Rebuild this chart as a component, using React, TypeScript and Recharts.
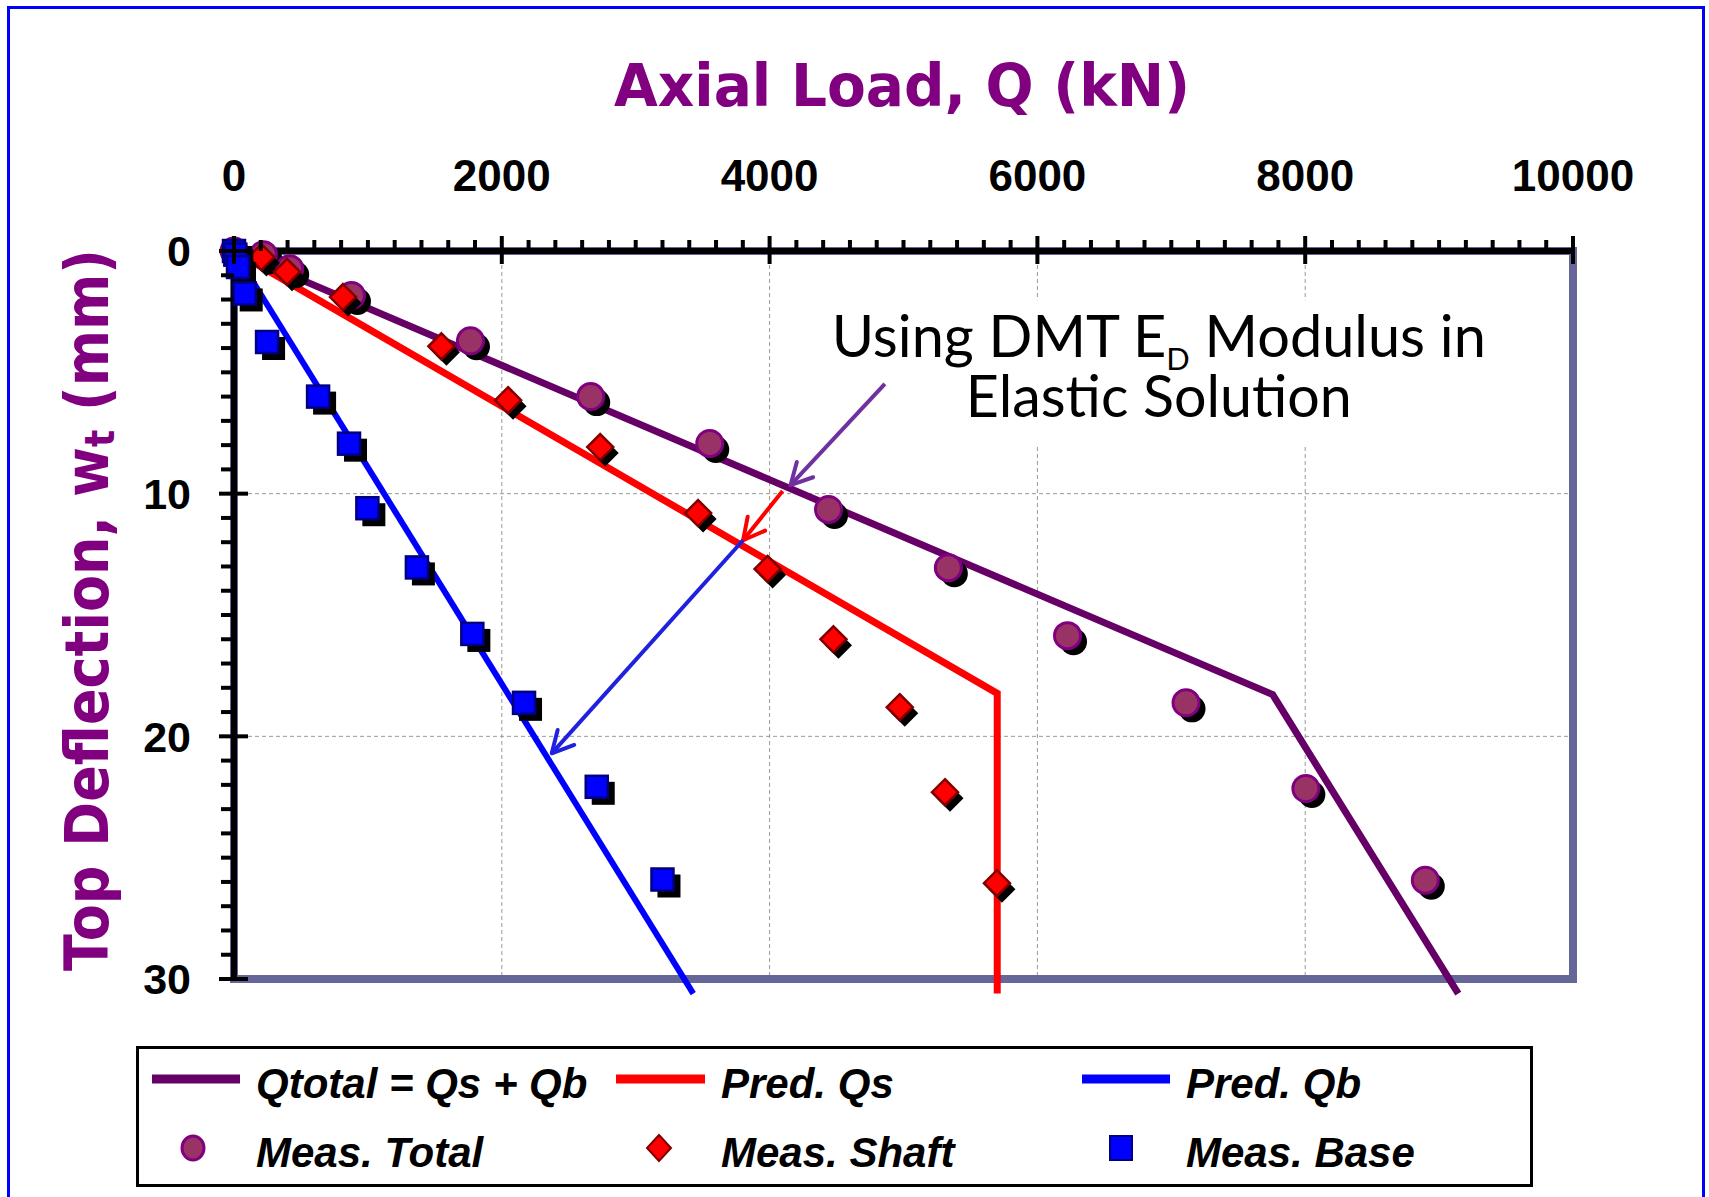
import React from 'react';
import {
  ComposedChart,
  Line,
  Scatter,
  XAxis,
  YAxis,
  CartesianGrid,
  ReferenceArea,
  ReferenceLine,
  ReferenceDot,
} from 'recharts';

// ---------- data ----------
const predTotalLoad = [0, 7757, 9143];
const predTotalDefl = [0, 18.28, 30.6];
const predShaftLoad = [0, 5700, 5700];
const predShaftDefl = [0, 18.23, 30.6];
const predBaseLoad = [0, 3430];
const predBaseDefl = [0, 30.6];

const measTotalLoad = [0, 220, 416, 877, 1766, 2664, 3553, 4440, 5335, 6225, 7110, 8005, 8897];
const measTotalDefl = [0, 0.15, 0.73, 1.83, 3.7, 6.0, 7.93, 10.65, 13.05, 15.85, 18.62, 22.15, 25.93];
const measShaftLoad = [0, 205, 396, 814, 1549, 2047, 2735, 3466, 3985, 4477, 4972, 5310, 5698];
const measShaftDefl = [0, 0.25, 0.86, 1.9, 3.93, 6.15, 8.08, 10.8, 13.1, 16.0, 18.8, 22.3, 26.05];
const measBaseLoad = [0, 10, 30, 80, 247, 628, 859, 996, 1366, 1780, 2166, 2709, 3200];
const measBaseDefl = [0, 0.15, 0.66, 1.75, 3.75, 6.0, 7.94, 10.6, 13.04, 15.78, 18.62, 22.08, 25.9];

const xMajorTicks = [0, 2000, 4000, 6000, 8000, 10000];
const xMinorStep = 200;
const yMajorTicks = [0, 10, 20, 30];
const yMinorStep = 1;
const gridX = [2000, 4000, 6000, 8000];
const gridY = [10, 20];

const legendLabels = ['Qtotal = Qs + Qb', 'Pred. Qs', 'Pred. Qb', 'Meas. Total', 'Meas. Shaft', 'Meas. Base'];

// annotation anchors (data units)
const arrowPurple = [{ x: 4861, y: 5.48 }, { x: 4156, y: 9.65 }];
const arrowRed = [{ x: 4097, y: 9.89 }, { x: 3802, y: 11.92 }];
const arrowBlue = [{ x: 3802, y: 11.92 }, { x: 2373, y: 20.7 }];
const noteBox = { x1: 4360, x2: 9455, y1: 2.03, y2: 8.0 };
const noteAnchor = { x: 6907, y: 4.37 };

const zip = (xs: number[], ys: number[]) => xs.map((load, i) => ({ load, defl: ys[i] }));

const predTotal = zip(predTotalLoad, predTotalDefl);
const predShaft = zip(predShaftLoad, predShaftDefl);
const predBase = zip(predBaseLoad, predBaseDefl);
const measTotal = zip(measTotalLoad, measTotalDefl);
const measShaft = zip(measShaftLoad, measShaftDefl);
const measBase = zip(measBaseLoad, measBaseDefl);

const xTicks = Array.from({ length: 10000 / xMinorStep + 1 }, (_, i) => i * xMinorStep);
const yTicks = Array.from({ length: 30 / yMinorStep + 1 }, (_, i) => i * yMinorStep);

// ---------- colours ----------
const PURPLE_LINE = '#660066';
const RED = '#FF0000';
const BLUE = '#0000FF';
const TITLE = '#800080';
const BORDER = '#666699';

const TICK_FONT = '"Liberation Sans", Arial, sans-serif';
const TITLE_FONT = '"DejaVu Sans", Verdana, sans-serif';

// ---------- ticks ----------
const XTick = (props: any) => {
  const { x, y, payload } = props;
  const v = payload.value;
  const major = xMajorTicks.includes(v);
  return (
    <g>
      {major ? (
        <line x1={x} x2={x} y1={y - 15} y2={y + 13} stroke="#000" strokeWidth={4} />
      ) : (
        <line x1={x} x2={x} y1={y - 11} y2={y} stroke="#000" strokeWidth={4} />
      )}
      {major && (
        <text x={x} y={y - 60} textAnchor="middle" fontFamily={TICK_FONT} fontWeight="bold" fontSize={44} fill="#000">
          {v}
        </text>
      )}
    </g>
  );
};

const YTick = (props: any) => {
  const { x, y, payload } = props;
  const v = payload.value;
  const major = yMajorTicks.includes(v);
  return (
    <g>
      {major ? (
        <line x1={x - 15} x2={x + 14} y1={y} y2={y} stroke="#000" strokeWidth={4} />
      ) : (
        <line x1={x - 13} x2={x} y1={y} y2={y} stroke="#000" strokeWidth={4} />
      )}
      {major && (
        <text x={x - 43} y={y} dy="0.36em" textAnchor="end" fontFamily={TICK_FONT} fontWeight="bold" fontSize={43} fill="#000">
          {v}
        </text>
      )}
    </g>
  );
};

// ---------- markers ----------
const CircleMark = (p: any) => (
  <g>
    <circle cx={p.cx + 6} cy={p.cy + 6} r={13.5} fill="#000" />
    <circle cx={p.cx} cy={p.cy} r={13} fill="#993366" stroke="#800080" strokeWidth={3} />
  </g>
);

const diamondPts = (cx: number, cy: number, h: number) =>
  `${cx},${cy - h} ${cx + h},${cy} ${cx},${cy + h} ${cx - h},${cy}`;

const DiamondMark = (p: any) => (
  <g>
    <polygon points={diamondPts(p.cx + 5, p.cy + 6, 13.5)} fill="#000" />
    <polygon points={diamondPts(p.cx, p.cy, 13)} fill={RED} stroke="#800000" strokeWidth={2.5} />
  </g>
);

const SquareMark = (p: any) => (
  <g>
    <rect x={p.cx - 11 + 6} y={p.cy - 11 + 6} width={23} height={23} fill="#000" />
    <rect x={p.cx - 11} y={p.cy - 11} width={22} height={22} fill={BLUE} stroke="#000080" strokeWidth={2.5} />
  </g>
);

// ---------- arrows ----------
const makeArrow = (color: string) => (props: any) => {
  const { x1, y1, x2, y2 } = props;
  const ang = Math.atan2(y2 - y1, x2 - x1);
  const L = 24;
  const a = Math.PI / 6.5;
  const p1x = x2 - L * Math.cos(ang - a);
  const p1y = y2 - L * Math.sin(ang - a);
  const p2x = x2 - L * Math.cos(ang + a);
  const p2y = y2 - L * Math.sin(ang + a);
  return (
    <g>
      <line x1={x1} y1={y1} x2={x2} y2={y2} stroke={color} strokeWidth={4} />
      <polyline
        points={`${p1x},${p1y} ${x2},${y2} ${p2x},${p2y}`}
        fill="none"
        stroke={color}
        strokeWidth={4}
        strokeLinecap="round"
        strokeLinejoin="round"
      />
    </g>
  );
};

const NoteText = (p: any) => {
  const { cx, cy } = p;
  const common = { textAnchor: 'middle' as const, fontFamily: 'Lato, "Open Sans", sans-serif', fill: '#000', lengthAdjust: 'spacingAndGlyphs' };
  return (
    <g>
      <text x={cx} y={cy} fontSize={58} textLength={654} {...common}>
        Using DMT E
        <tspan fontSize={31} dy={13}>D</tspan>
        <tspan dy={-13}> Modulus in</tspan>
      </text>
      <text x={cx} y={cy + 60} fontSize={58} textLength={386} {...common}>
        Elastic Solution
      </text>
    </g>
  );
};

// ---------- legend ----------
const LegendBox = () => {
  const textStyle = { fontFamily: TICK_FONT, fontWeight: 'bold' as const, fontStyle: 'italic' as const, fontSize: 42, fill: '#000' };
  const r1 = 33;
  const r2 = 102;
  const b1 = 52;
  const b2 = 121;
  const colText = [120, 585, 1050];
  const lines = [
    { x1: 16, x2: 104, c: PURPLE_LINE },
    { x1: 480, x2: 569, c: RED },
    { x1: 946, x2: 1034, c: BLUE },
  ];
  return (
    <svg width={1397} height={141} style={{ position: 'absolute', left: 136, top: 1046 }}>
      <rect x={1.5} y={1.5} width={1394} height={138} fill="#fff" stroke="#000" strokeWidth={3} />
      {lines.map((l, i) => (
        <g key={i}>
          <line x1={l.x1} x2={l.x2} y1={r1} y2={r1} stroke={l.c} strokeWidth={9} />
          <text x={colText[i]} y={b1} {...textStyle}>
            {legendLabels[i]}
          </text>
        </g>
      ))}
      <ellipse cx={57} cy={r2} rx={11} ry={12} fill="#993366" stroke="#800080" strokeWidth={3} />
      <polygon points={`523,${r2 - 13} 535,${r2} 523,${r2 + 13} 511,${r2}`} fill={RED} stroke="#800000" strokeWidth={2} />
      <rect x={974} y={r2 - 12} width={22} height={24} fill={BLUE} stroke="#000080" strokeWidth={2} />
      {[3, 4, 5].map((k, i) => (
        <text key={k} x={colText[i]} y={b2} {...textStyle}>
          {legendLabels[k]}
        </text>
      ))}
    </svg>
  );
};

export default function App() {
  return (
    <div style={{ position: 'relative', width: 1709, height: 1197, background: '#fff', overflow: 'hidden' }}>
      <style>{`body{margin:0} .recharts-wrapper [clip-path]{clip-path:none !important} .recharts-line path{clip-path:none !important}`}</style>
      <div
        style={{
          position: 'absolute',
          left: 7,
          top: 6,
          width: 1698,
          height: 1400,
          boxSizing: 'border-box',
          borderTop: '3px solid #0000FF',
          borderLeft: '3px solid #0000FF',
          borderRight: '3px solid #0000FF',
        }}
      />
      <div style={{ position: 'absolute', left: 0, top: 0 }}>
        <ComposedChart width={1709} height={1197} margin={{ top: 201, right: 136, bottom: 218, left: 174 }}>
          <CartesianGrid
            horizontalValues={gridY}
            verticalValues={gridX}
            stroke="#999"
            strokeWidth={1}
            strokeDasharray="4 3"
          />
          <ReferenceArea
            x1={0}
            x2={10000}
            y1={0}
            y2={30}
            fill="none"
            stroke={BORDER}
            strokeWidth={8}
            ifOverflow="visible"
          />
          <ReferenceArea
            x1={noteBox.x1}
            x2={noteBox.x2}
            y1={noteBox.y1}
            y2={noteBox.y2}
            fill="#fff"
            fillOpacity={1}
            stroke="none"
          />
          <XAxis
            xAxisId={0}
            orientation="top"
            type="number"
            dataKey="load"
            domain={[0, 10000]}
            ticks={xTicks}
            interval={0}
            tick={<XTick />}
            tickLine={false}
            tickSize={0}
            tickMargin={0}
            height={50}
            axisLine={{ stroke: '#000', strokeWidth: 6 }}
            allowDataOverflow
          />
          <YAxis
            yAxisId={0}
            type="number"
            dataKey="defl"
            domain={[0, 30]}
            reversed
            ticks={yTicks}
            interval={0}
            tick={<YTick />}
            tickLine={false}
            tickSize={0}
            tickMargin={0}
            width={60}
            axisLine={{ stroke: '#000', strokeWidth: 6 }}
            allowDataOverflow
          />
          <Line data={predTotal} dataKey="defl" type="linear" stroke={PURPLE_LINE} strokeWidth={7} dot={false} activeDot={false} isAnimationActive={false} />
          <Line data={predShaft} dataKey="defl" type="linear" stroke={RED} strokeWidth={7} dot={false} activeDot={false} isAnimationActive={false} />
          <Line data={predBase} dataKey="defl" type="linear" stroke={BLUE} strokeWidth={6} dot={false} activeDot={false} isAnimationActive={false} />
          <ReferenceLine segment={arrowPurple} shape={makeArrow('#7030A0')} ifOverflow="visible" />
          <ReferenceLine segment={arrowRed} shape={makeArrow(RED)} ifOverflow="visible" />
          <ReferenceLine segment={arrowBlue} shape={makeArrow('#2020E0')} ifOverflow="visible" />
          <Scatter data={measTotal} dataKey="defl" shape={(p: any) => <CircleMark {...p} />} isAnimationActive={false} />
          <Scatter data={measShaft} dataKey="defl" shape={(p: any) => <DiamondMark {...p} />} isAnimationActive={false} />
          <Scatter data={measBase} dataKey="defl" shape={(p: any) => <SquareMark {...p} />} isAnimationActive={false} />
          <ReferenceDot x={noteAnchor.x} y={noteAnchor.y} r={1} shape={(p: any) => <NoteText {...p} />} ifOverflow="visible" />
        </ComposedChart>
      </div>
      <svg width={1709} height={1197} style={{ position: 'absolute', left: 0, top: 0, pointerEvents: 'none' }}>
        <text
          x={902}
          y={106}
          textAnchor="middle"
          fontFamily={TITLE_FONT}
          fontWeight="bold"
          fontSize={59}
          fill={TITLE}
          textLength={576}
          lengthAdjust="spacingAndGlyphs"
        >
          Axial Load, Q (kN)
        </text>
        <text
          transform="translate(108,610) rotate(-90)"
          x={0}
          y={0}
          textAnchor="middle"
          fontFamily={TITLE_FONT}
          fontWeight="bold"
          fontSize={60}
          fill={TITLE}
          textLength={722}
          lengthAdjust="spacingAndGlyphs"
        >
          Top Deflection, w
          <tspan fontSize={40} dy={6}>t</tspan>
          <tspan dy={-6}> (mm)</tspan>
        </text>
      </svg>
      <LegendBox />
    </div>
  );
}
